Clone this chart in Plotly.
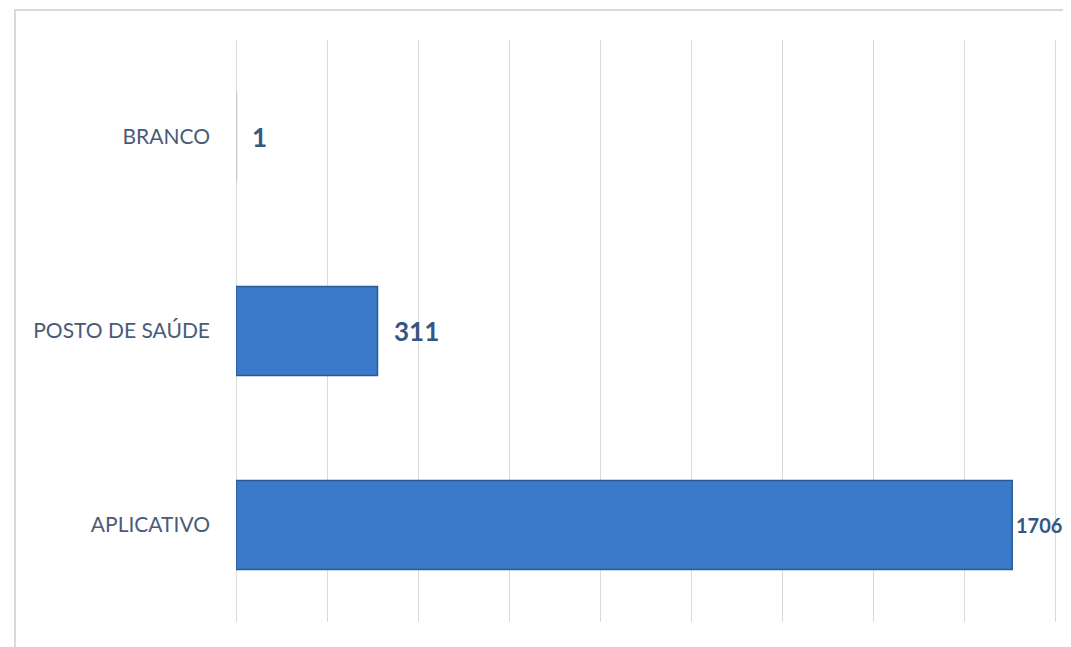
import plotly.graph_objects as go

categories = ["APLICATIVO", "POSTO DE SAÚDE", "BRANCO"]
values = [1706, 311, 1]
bar_colors = ["#3b7ac8", "#3b7ac8", "#e8e8e8"]
line_colors = ["#2a5a96", "#2a5a96", "#c8c8c8"]

# page has an 8px body margin; compensate so the figure lands where the reference is
OFF = 8
W, H = 1071 - 2 * OFF, 647 - OFF
L, T, B = 236 - OFF, 40 - OFF, 25
px_per_unit = 91 / 200
xmax = (W - L) / px_per_unit

FONT = "Lato, Open Sans, sans-serif"

fig = go.Figure()
fig.add_trace(go.Bar(
    y=categories, x=values, orientation="h",
    marker=dict(color=bar_colors, line=dict(color=line_colors, width=1.5)),
    width=0.46, hoverinfo="skip",
))

vmax = max(values)
for c, v in zip(categories, values):
    big = v == vmax
    fig.add_annotation(x=v, y=c, text=f"<b>{v}</b>", showarrow=False,
                       xanchor="left", yanchor="middle", xshift=2 if big else 14,
                       font=dict(family=FONT, size=20 if big else 26, color="#365683"))

# outer chart border
fig.add_shape(type="rect", xref="paper", yref="paper",
              x0=(15 - 236) / (W - L), x1=1.2, y0=-0.2, y1=1 + (40 - 10) / (H - T - B),
              line=dict(color="#d9d9d9", width=2), fillcolor="rgba(0,0,0,0)", layer="below")

fig.update_layout(
    width=W, height=H,
    margin=dict(l=L, r=0, t=T, b=B),
    paper_bgcolor="white", plot_bgcolor="white",
    showlegend=False,
    xaxis=dict(range=[0, xmax], dtick=200, showgrid=True, gridcolor="#d9d9d9", gridwidth=1,
               showticklabels=False, zeroline=True, zerolinecolor="#d9d9d9", zerolinewidth=1,
               showline=False, fixedrange=True),
    yaxis=dict(categoryorder="array", categoryarray=categories, showgrid=False,
               showline=False, ticks="", ticklabelstandoff=25,
               tickfont=dict(family=FONT, size=21, color="#4a5b78")),
)

fig.write_html("out.html")
